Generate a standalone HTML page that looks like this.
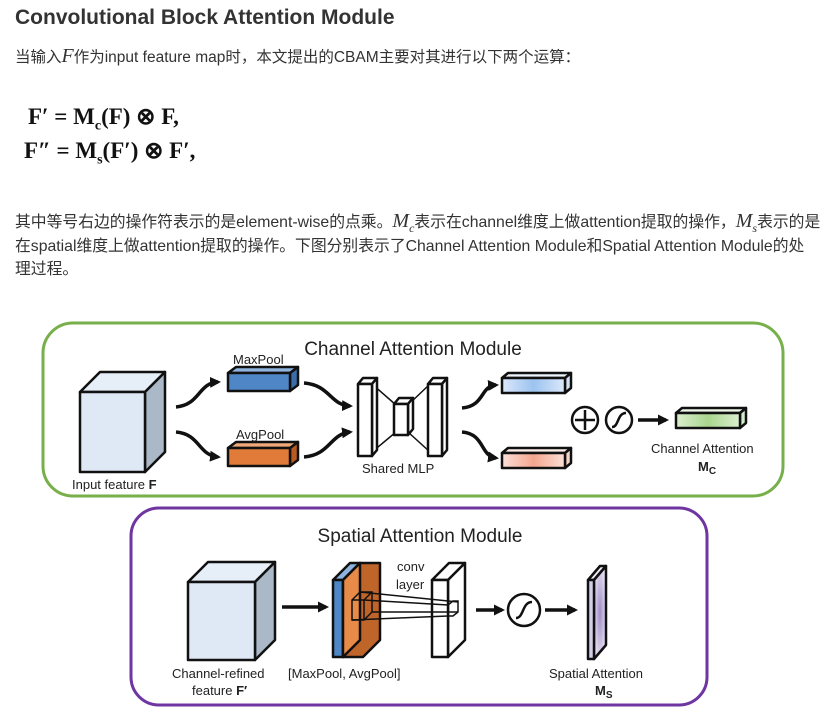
<!DOCTYPE html>
<html><head><meta charset="utf-8"><style>
body{margin:0;width:840px;height:710px;background:#fff;position:relative;overflow:hidden;font-family:"Liberation Sans","Noto Sans CJK SC",sans-serif;color:#333}
.t{position:absolute;white-space:nowrap}
.m{font-family:"Liberation Serif",serif;font-style:italic;font-size:20px}
.f{font-family:"Liberation Serif",serif;font-weight:bold;font-size:23px;color:#111}
</style></head><body>
<div class="t" style="left:15px;top:6px;font-size:21px;font-weight:bold;color:#333">Convolutional Block Attention Module</div>
<div class="t" style="left:15px;top:45px;font-size:15.5px">当输入<span class="m">F</span>作为input feature map时，本文提出的CBAM主要对其进行以下两个运算：</div>
<div class="t f" style="left:28px;top:104px">F′ = M<sub style="font-size:14px">c</sub>(F) ⊗ F,</div>
<div class="t f" style="left:24px;top:138px">F″ = M<sub style="font-size:14px">s</sub>(F′) ⊗ F′,</div>
<div class="t" style="left:15px;top:209px;font-size:15.8px">其中等号右边的操作符表示的是element-wise的点乘。<span class="m">M<sub style="font-size:12px">c</sub></span>表示在channel维度上做attention提取的操作，<span class="m">M<sub style="font-size:12px">s</sub></span>表示的是</div>
<div class="t" style="left:15px;top:233px;font-size:15.8px">在spatial维度上做attention提取的操作。下图分别表示了Channel Attention Module和Spatial Attention Module的处</div>
<div class="t" style="left:15px;top:256px;font-size:15.8px">理过程。</div>
<svg width="840" height="710" style="position:absolute;left:0;top:0" font-family="Liberation Sans,sans-serif">
<defs>
<marker id="a" markerUnits="userSpaceOnUse" markerWidth="11" markerHeight="11" refX="8" refY="5.5" orient="auto"><path d="M0,0L11,5.5L0,11z" fill="#111"/></marker>
<linearGradient id="gb" x1="0" x2="1"><stop offset="0" stop-color="#dce8fa"/><stop offset=".5" stop-color="#9cc3f0"/><stop offset="1" stop-color="#dce8fa"/></linearGradient>
<linearGradient id="gp" x1="0" x2="1"><stop offset="0" stop-color="#fbe0d8"/><stop offset=".5" stop-color="#f4a58e"/><stop offset="1" stop-color="#fbe0d8"/></linearGradient>
<linearGradient id="gg" x1="0" x2="1"><stop offset="0" stop-color="#dcefd0"/><stop offset=".5" stop-color="#a9d68e"/><stop offset="1" stop-color="#dcefd0"/></linearGradient>
<radialGradient id="gv"><stop offset="0" stop-color="#a08cc8"/><stop offset="1" stop-color="#e2dbf0"/></radialGradient>
</defs>
<rect x="43" y="323" width="740" height="173" rx="30" fill="none" stroke="#77b04a" stroke-width="3"/>
<rect x="131" y="508" width="576" height="197" rx="28" fill="none" stroke="#6f35a0" stroke-width="3"/>
<g stroke="#111" stroke-width="2.5" stroke-linejoin="round">
<path d="M80,392L100,372L165,372L145,392Z" fill="#e6eef8"/>
<path d="M145,392L165,372L165,452L145,472Z" fill="#aab8c8"/>
<rect x="80" y="392" width="65" height="80" fill="#dfe9f6"/>
<path d="M228,373L236,367L298,367L290,373Z" fill="#8fb4e0"/>
<path d="M290,373L298,367L298,385L290,391Z" fill="#3b6ea8"/>
<rect x="228" y="373" width="62" height="18" fill="#4f86c6"/>
<path d="M228,448L236,442L298,442L290,448Z" fill="#f0a878"/>
<path d="M290,448L298,442L298,460L290,466Z" fill="#b85a22"/>
<rect x="228" y="448" width="62" height="18" fill="#e07b39"/>
<path d="M372,384L396,405M372,452L396,432M408,405L430,384M408,432L430,452" fill="none" stroke-width="1.5"/>
<path d="M358,384L363,378L377,378L372,384Z" fill="#fff"/><path d="M372,384L377,378L377,450L372,456Z" fill="#fff"/><rect x="358" y="384" width="14" height="72" fill="#fff"/>
<path d="M394,404L399,398L413,398L408,404Z" fill="#fff"/><path d="M408,404L413,398L413,429L408,435Z" fill="#fff"/><rect x="394" y="404" width="14" height="31" fill="#fff"/>
<path d="M428,384L433,378L447,378L442,384Z" fill="#fff"/><path d="M442,384L447,378L447,450L442,456Z" fill="#fff"/><rect x="428" y="384" width="14" height="72" fill="#fff"/>
<path d="M502,378L508,373L571,373L565,378Z" fill="#eef4fc"/><path d="M565,378L571,373L571,388L565,393Z" fill="#d5e2f5"/><rect x="502" y="378" width="63" height="15" fill="url(#gb)"/>
<path d="M502,453L508,448L571,448L565,453Z" fill="#fcefea"/><path d="M565,453L571,448L571,463L565,468Z" fill="#f5d5ca"/><rect x="502" y="453" width="63" height="15" fill="url(#gp)"/>
<path d="M676,413L682,408L746,408L740,413Z" fill="#eef7e8"/><path d="M740,413L746,408L746,423L740,428Z" fill="#d3ead0"/><rect x="676" y="413" width="64" height="15" fill="url(#gg)"/>
<circle cx="585" cy="420" r="13" fill="#fff"/><path d="M585,410V430M575,420H595"/>
<circle cx="619" cy="420" r="13" fill="#fff"/><path d="M612,427C619,427 617,413 626,413" fill="none"/>
</g>
<g stroke="#111" stroke-width="3.5" fill="none" marker-end="url(#a)">
<path d="M176,407C200,405 198,383 218,382"/>
<path d="M176,432C200,434 198,455 218,457"/>
<path d="M304,383C330,385 330,405 350,406"/>
<path d="M304,457C330,455 330,434 350,432"/>
<path d="M462,408C485,406 480,386 496,385"/>
<path d="M462,432C485,434 480,456 496,458"/>
<path d="M638,420H666"/>
<path d="M282,607H326"/>
<path d="M476,610H502"/>
<path d="M545,610H575"/>
</g>
<g fill="#222" font-size="13">
<text x="413" y="355" font-size="19" text-anchor="middle">Channel Attention Module</text>
<text x="233" y="364">MaxPool</text>
<text x="236" y="439">AvgPool</text>
<text x="72" y="489">Input feature <tspan font-weight="bold">F</tspan></text>
<text x="362" y="473">Shared MLP</text>
<text x="651" y="453">Channel Attention</text>
<text x="698" y="471" font-weight="bold">M<tspan font-size="10" dy="3">C</tspan></text>
<text x="420" y="542" font-size="19" text-anchor="middle">Spatial Attention Module</text>
<text x="397" y="571">conv</text>
<text x="396" y="589">layer</text>
<text x="172" y="678">Channel-refined</text>
<text x="192" y="695">feature <tspan font-weight="bold">F′</tspan></text>
<text x="288" y="678">[MaxPool, AvgPool]</text>
<text x="549" y="678">Spatial Attention</text>
<text x="595" y="695" font-weight="bold">M<tspan font-size="10" dy="3">S</tspan></text>
</g>
<g stroke="#111" stroke-width="2.5" stroke-linejoin="round">
<path d="M188,582L208,562L275,562L255,582Z" fill="#e6eef8"/>
<path d="M255,582L275,562L275,640L255,660Z" fill="#aab8c8"/>
<rect x="188" y="582" width="67" height="78" fill="#dfe9f6"/>
<path d="M333,580L350,563L360,563L343,580Z" fill="#8fb4e0"/>
<rect x="333" y="580" width="10" height="77" fill="#4f86c6"/>
<path d="M343,580L360,563L380,563L380,640L363,657L343,657Z" fill="#c0652a"/>
<path d="M343,580L360,563L360,640L343,657Z" fill="#e88a48"/>
<path d="M432,580L449,563L465,563L448,580Z" fill="#fff"/>
<path d="M448,580L465,563L465,640L448,657Z" fill="#fff"/>
<rect x="432" y="580" width="16" height="77" fill="#fff"/>
<path d="M588,580L600,566L606,566L594,580Z" fill="#f0ecf8"/>
<path d="M594,580L606,566L606,645L594,659Z" fill="url(#gv)"/>
<rect x="588" y="580" width="6" height="79" fill="#d6cdea"/>
</g>
<g stroke="#111" stroke-width="1.5" fill="none">
<path d="M352,600L360,592L372,592L372,612L364,620L352,620Z M352,600H364V620 M364,600L372,592"/>
<path d="M360,592L458,602M372,612L458,612M352,620L448,616M364,600L448,605"/>
<path d="M448,605L453,601L458,601L458,612L453,616L448,616Z"/>
</g>
<circle cx="524" cy="610" r="16" fill="#fff" stroke="#111" stroke-width="2.5"/>
<path d="M516,618C524,618 522,602 532,602" fill="none" stroke="#111" stroke-width="2.5"/>
</svg>
</body></html>
